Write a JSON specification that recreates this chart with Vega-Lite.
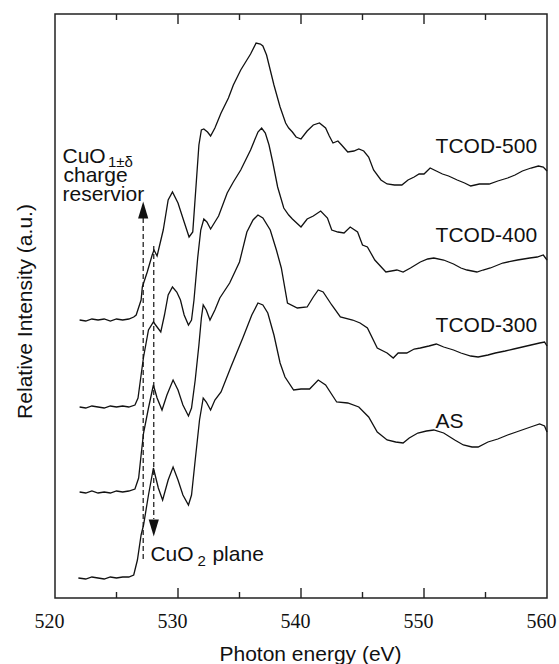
{
  "$schema": "https://vega.github.io/schema/vega-lite/v6.json",
  "width": 492,
  "height": 584,
  "autosize": {"type": "none"},
  "padding": {"left": 55, "top": 14, "right": 12, "bottom": 66},
  "background": "white",
  "config": {
    "view": {"stroke": "#222", "strokeWidth": 1.5},
    "axis": {"grid": false, "domain": false, "labelFont": "Liberation Serif", "labelFontSize": 20, "labelColor": "#111", "titleFont": "Liberation Sans", "titleFontSize": 21, "titleFontWeight": "normal", "titleColor": "#111"}
  },
  "datasets": {
    "spectra": [
      {"E":522.0,"I":278,"s":"TCOD-500"},{"E":522.5,"I":277,"s":"TCOD-500"},{"E":523.0,"I":279,"s":"TCOD-500"},{"E":523.5,"I":278,"s":"TCOD-500"},{"E":524.0,"I":279,"s":"TCOD-500"},{"E":524.5,"I":277,"s":"TCOD-500"},{"E":525.0,"I":279,"s":"TCOD-500"},{"E":525.5,"I":278,"s":"TCOD-500"},{"E":526.0,"I":279,"s":"TCOD-500"},{"E":526.4,"I":281,"s":"TCOD-500"},{"E":526.6,"I":283,"s":"TCOD-500"},{"E":527.0,"I":298,"s":"TCOD-500"},{"E":527.1,"I":311,"s":"TCOD-500"},{"E":527.5,"I":326,"s":"TCOD-500"},{"E":527.9,"I":343,"s":"TCOD-500"},{"E":528.05,"I":348,"s":"TCOD-500"},{"E":528.3,"I":342,"s":"TCOD-500"},{"E":528.55,"I":355,"s":"TCOD-500"},{"E":528.8,"I":368,"s":"TCOD-500"},{"E":529.2,"I":398,"s":"TCOD-500"},{"E":529.55,"I":406,"s":"TCOD-500"},{"E":530.0,"I":395,"s":"TCOD-500"},{"E":530.5,"I":376,"s":"TCOD-500"},{"E":530.9,"I":361,"s":"TCOD-500"},{"E":531.2,"I":366,"s":"TCOD-500"},{"E":531.5,"I":418,"s":"TCOD-500"},{"E":531.7,"I":453,"s":"TCOD-500"},{"E":531.9,"I":468,"s":"TCOD-500"},{"E":532.1,"I":469,"s":"TCOD-500"},{"E":532.4,"I":466,"s":"TCOD-500"},{"E":532.65,"I":462,"s":"TCOD-500"},{"E":533.0,"I":470,"s":"TCOD-500"},{"E":533.5,"I":485,"s":"TCOD-500"},{"E":534.1,"I":500,"s":"TCOD-500"},{"E":534.5,"I":513,"s":"TCOD-500"},{"E":535.1,"I":528,"s":"TCOD-500"},{"E":535.9,"I":544,"s":"TCOD-500"},{"E":536.35,"I":555,"s":"TCOD-500"},{"E":536.7,"I":554,"s":"TCOD-500"},{"E":536.9,"I":552,"s":"TCOD-500"},{"E":537.2,"I":543,"s":"TCOD-500"},{"E":537.5,"I":528,"s":"TCOD-500"},{"E":537.8,"I":513,"s":"TCOD-500"},{"E":538.3,"I":491,"s":"TCOD-500"},{"E":538.75,"I":475,"s":"TCOD-500"},{"E":539.0,"I":470,"s":"TCOD-500"},{"E":539.3,"I":466,"s":"TCOD-500"},{"E":539.6,"I":461,"s":"TCOD-500"},{"E":540.0,"I":459,"s":"TCOD-500"},{"E":540.5,"I":467,"s":"TCOD-500"},{"E":541.0,"I":473,"s":"TCOD-500"},{"E":541.5,"I":475,"s":"TCOD-500"},{"E":542.0,"I":470,"s":"TCOD-500"},{"E":542.3,"I":462,"s":"TCOD-500"},{"E":542.6,"I":455,"s":"TCOD-500"},{"E":543.0,"I":457,"s":"TCOD-500"},{"E":543.3,"I":453,"s":"TCOD-500"},{"E":543.8,"I":446,"s":"TCOD-500"},{"E":544.3,"I":447,"s":"TCOD-500"},{"E":544.7,"I":449,"s":"TCOD-500"},{"E":545.1,"I":447,"s":"TCOD-500"},{"E":545.5,"I":441,"s":"TCOD-500"},{"E":545.9,"I":428,"s":"TCOD-500"},{"E":546.5,"I":418,"s":"TCOD-500"},{"E":547.0,"I":414,"s":"TCOD-500"},{"E":547.6,"I":413,"s":"TCOD-500"},{"E":548.2,"I":413,"s":"TCOD-500"},{"E":548.7,"I":418,"s":"TCOD-500"},{"E":549.2,"I":421,"s":"TCOD-500"},{"E":549.6,"I":424,"s":"TCOD-500"},{"E":550.0,"I":424,"s":"TCOD-500"},{"E":550.5,"I":430,"s":"TCOD-500"},{"E":551.0,"I":427,"s":"TCOD-500"},{"E":551.5,"I":424,"s":"TCOD-500"},{"E":552.0,"I":422,"s":"TCOD-500"},{"E":552.7,"I":418,"s":"TCOD-500"},{"E":553.3,"I":415,"s":"TCOD-500"},{"E":553.8,"I":412,"s":"TCOD-500"},{"E":554.5,"I":414,"s":"TCOD-500"},{"E":555.3,"I":414,"s":"TCOD-500"},{"E":556.0,"I":417,"s":"TCOD-500"},{"E":556.8,"I":420,"s":"TCOD-500"},{"E":557.4,"I":423,"s":"TCOD-500"},{"E":558.0,"I":427,"s":"TCOD-500"},{"E":558.7,"I":430,"s":"TCOD-500"},{"E":559.3,"I":432,"s":"TCOD-500"},{"E":559.7,"I":431,"s":"TCOD-500"},{"E":560.0,"I":427,"s":"TCOD-500"},

      {"E":522.0,"I":191,"s":"TCOD-400"},{"E":522.5,"I":190,"s":"TCOD-400"},{"E":523.0,"I":192,"s":"TCOD-400"},{"E":523.5,"I":191,"s":"TCOD-400"},{"E":524.0,"I":190,"s":"TCOD-400"},{"E":524.5,"I":192,"s":"TCOD-400"},{"E":525.0,"I":191,"s":"TCOD-400"},{"E":525.5,"I":192,"s":"TCOD-400"},{"E":526.0,"I":191,"s":"TCOD-400"},{"E":526.5,"I":193,"s":"TCOD-400"},{"E":526.75,"I":200,"s":"TCOD-400"},{"E":527.0,"I":223,"s":"TCOD-400"},{"E":527.2,"I":241,"s":"TCOD-400"},{"E":527.6,"I":268,"s":"TCOD-400"},{"E":528.0,"I":276,"s":"TCOD-400"},{"E":528.3,"I":271,"s":"TCOD-400"},{"E":528.6,"I":266,"s":"TCOD-400"},{"E":528.9,"I":283,"s":"TCOD-400"},{"E":529.2,"I":303,"s":"TCOD-400"},{"E":529.55,"I":311,"s":"TCOD-400"},{"E":529.9,"I":306,"s":"TCOD-400"},{"E":530.2,"I":298,"s":"TCOD-400"},{"E":530.5,"I":283,"s":"TCOD-400"},{"E":530.85,"I":273,"s":"TCOD-400"},{"E":531.1,"I":278,"s":"TCOD-400"},{"E":531.3,"I":298,"s":"TCOD-400"},{"E":531.6,"I":340,"s":"TCOD-400"},{"E":531.85,"I":368,"s":"TCOD-400"},{"E":532.1,"I":379,"s":"TCOD-400"},{"E":532.35,"I":376,"s":"TCOD-400"},{"E":532.65,"I":369,"s":"TCOD-400"},{"E":533.0,"I":376,"s":"TCOD-400"},{"E":533.3,"I":382,"s":"TCOD-400"},{"E":534.0,"I":405,"s":"TCOD-400"},{"E":534.5,"I":416,"s":"TCOD-400"},{"E":535.1,"I":428,"s":"TCOD-400"},{"E":535.9,"I":448,"s":"TCOD-400"},{"E":536.5,"I":466,"s":"TCOD-400"},{"E":536.8,"I":470,"s":"TCOD-400"},{"E":537.1,"I":465,"s":"TCOD-400"},{"E":537.4,"I":453,"s":"TCOD-400"},{"E":537.7,"I":436,"s":"TCOD-400"},{"E":538.1,"I":411,"s":"TCOD-400"},{"E":538.6,"I":390,"s":"TCOD-400"},{"E":539.0,"I":383,"s":"TCOD-400"},{"E":539.3,"I":379,"s":"TCOD-400"},{"E":540.0,"I":371,"s":"TCOD-400"},{"E":540.5,"I":379,"s":"TCOD-400"},{"E":541.0,"I":382,"s":"TCOD-400"},{"E":541.6,"I":387,"s":"TCOD-400"},{"E":542.15,"I":380,"s":"TCOD-400"},{"E":542.5,"I":368,"s":"TCOD-400"},{"E":543.0,"I":366,"s":"TCOD-400"},{"E":543.5,"I":365,"s":"TCOD-400"},{"E":544.0,"I":371,"s":"TCOD-400"},{"E":544.6,"I":366,"s":"TCOD-400"},{"E":545.0,"I":353,"s":"TCOD-400"},{"E":545.4,"I":351,"s":"TCOD-400"},{"E":546.0,"I":338,"s":"TCOD-400"},{"E":546.9,"I":326,"s":"TCOD-400"},{"E":547.8,"I":328,"s":"TCOD-400"},{"E":548.3,"I":326,"s":"TCOD-400"},{"E":548.9,"I":330,"s":"TCOD-400"},{"E":549.7,"I":336,"s":"TCOD-400"},{"E":550.3,"I":339,"s":"TCOD-400"},{"E":550.8,"I":340,"s":"TCOD-400"},{"E":551.6,"I":338,"s":"TCOD-400"},{"E":552.4,"I":334,"s":"TCOD-400"},{"E":553.0,"I":330,"s":"TCOD-400"},{"E":553.5,"I":328,"s":"TCOD-400"},{"E":554.3,"I":326,"s":"TCOD-400"},{"E":554.8,"I":328,"s":"TCOD-400"},{"E":555.4,"I":330,"s":"TCOD-400"},{"E":556.4,"I":335,"s":"TCOD-400"},{"E":557.6,"I":338,"s":"TCOD-400"},{"E":558.6,"I":340,"s":"TCOD-400"},{"E":559.2,"I":341,"s":"TCOD-400"},{"E":559.7,"I":343,"s":"TCOD-400"},{"E":560.0,"I":338,"s":"TCOD-400"},

      {"E":522.0,"I":106,"s":"TCOD-300"},{"E":522.5,"I":105,"s":"TCOD-300"},{"E":523.0,"I":107,"s":"TCOD-300"},{"E":523.5,"I":105,"s":"TCOD-300"},{"E":524.0,"I":106,"s":"TCOD-300"},{"E":524.5,"I":105,"s":"TCOD-300"},{"E":525.0,"I":107,"s":"TCOD-300"},{"E":525.5,"I":106,"s":"TCOD-300"},{"E":526.0,"I":107,"s":"TCOD-300"},{"E":526.5,"I":109,"s":"TCOD-300"},{"E":526.8,"I":120,"s":"TCOD-300"},{"E":527.0,"I":143,"s":"TCOD-300"},{"E":527.2,"I":165,"s":"TCOD-300"},{"E":527.6,"I":190,"s":"TCOD-300"},{"E":528.0,"I":213,"s":"TCOD-300"},{"E":528.3,"I":200,"s":"TCOD-300"},{"E":528.7,"I":188,"s":"TCOD-300"},{"E":529.1,"I":203,"s":"TCOD-300"},{"E":529.6,"I":218,"s":"TCOD-300"},{"E":530.0,"I":208,"s":"TCOD-300"},{"E":530.4,"I":193,"s":"TCOD-300"},{"E":530.85,"I":182,"s":"TCOD-300"},{"E":531.1,"I":190,"s":"TCOD-300"},{"E":531.4,"I":218,"s":"TCOD-300"},{"E":531.7,"I":253,"s":"TCOD-300"},{"E":531.9,"I":280,"s":"TCOD-300"},{"E":532.05,"I":293,"s":"TCOD-300"},{"E":532.3,"I":288,"s":"TCOD-300"},{"E":532.6,"I":278,"s":"TCOD-300"},{"E":533.0,"I":288,"s":"TCOD-300"},{"E":533.4,"I":300,"s":"TCOD-300"},{"E":534.2,"I":315,"s":"TCOD-300"},{"E":535.0,"I":336,"s":"TCOD-300"},{"E":535.6,"I":366,"s":"TCOD-300"},{"E":536.1,"I":378,"s":"TCOD-300"},{"E":536.5,"I":383,"s":"TCOD-300"},{"E":536.9,"I":380,"s":"TCOD-300"},{"E":537.5,"I":368,"s":"TCOD-300"},{"E":538.0,"I":348,"s":"TCOD-300"},{"E":538.4,"I":330,"s":"TCOD-300"},{"E":538.9,"I":295,"s":"TCOD-300"},{"E":539.7,"I":290,"s":"TCOD-300"},{"E":540.5,"I":291,"s":"TCOD-300"},{"E":541.0,"I":301,"s":"TCOD-300"},{"E":541.4,"I":308,"s":"TCOD-300"},{"E":541.8,"I":306,"s":"TCOD-300"},{"E":542.5,"I":293,"s":"TCOD-300"},{"E":543.2,"I":281,"s":"TCOD-300"},{"E":544.2,"I":278,"s":"TCOD-300"},{"E":544.8,"I":275,"s":"TCOD-300"},{"E":545.4,"I":270,"s":"TCOD-300"},{"E":546.2,"I":250,"s":"TCOD-300"},{"E":547.0,"I":245,"s":"TCOD-300"},{"E":547.5,"I":240,"s":"TCOD-300"},{"E":547.9,"I":245,"s":"TCOD-300"},{"E":548.6,"I":245,"s":"TCOD-300"},{"E":549.2,"I":249,"s":"TCOD-300"},{"E":549.7,"I":250,"s":"TCOD-300"},{"E":550.4,"I":252,"s":"TCOD-300"},{"E":551.0,"I":254,"s":"TCOD-300"},{"E":551.6,"I":251,"s":"TCOD-300"},{"E":552.4,"I":248,"s":"TCOD-300"},{"E":553.0,"I":245,"s":"TCOD-300"},{"E":553.8,"I":242,"s":"TCOD-300"},{"E":554.4,"I":241,"s":"TCOD-300"},{"E":555.2,"I":243,"s":"TCOD-300"},{"E":555.8,"I":245,"s":"TCOD-300"},{"E":556.6,"I":247,"s":"TCOD-300"},{"E":557.3,"I":249,"s":"TCOD-300"},{"E":558.0,"I":251,"s":"TCOD-300"},{"E":558.7,"I":253,"s":"TCOD-300"},{"E":559.4,"I":255,"s":"TCOD-300"},{"E":559.8,"I":256,"s":"TCOD-300"},{"E":560.0,"I":252,"s":"TCOD-300"},

      {"E":521.9,"I":20,"s":"AS"},{"E":522.5,"I":19,"s":"AS"},{"E":523.0,"I":21,"s":"AS"},{"E":523.5,"I":20,"s":"AS"},{"E":524.0,"I":19,"s":"AS"},{"E":524.5,"I":21,"s":"AS"},{"E":525.0,"I":20,"s":"AS"},{"E":525.5,"I":21,"s":"AS"},{"E":526.0,"I":21,"s":"AS"},{"E":526.4,"I":23,"s":"AS"},{"E":526.7,"I":38,"s":"AS"},{"E":527.0,"I":63,"s":"AS"},{"E":527.2,"I":73,"s":"AS"},{"E":527.6,"I":103,"s":"AS"},{"E":528.0,"I":130,"s":"AS"},{"E":528.4,"I":110,"s":"AS"},{"E":528.75,"I":98,"s":"AS"},{"E":529.2,"I":118,"s":"AS"},{"E":529.6,"I":131,"s":"AS"},{"E":530.0,"I":118,"s":"AS"},{"E":530.4,"I":103,"s":"AS"},{"E":530.85,"I":93,"s":"AS"},{"E":531.1,"I":103,"s":"AS"},{"E":531.4,"I":138,"s":"AS"},{"E":531.75,"I":178,"s":"AS"},{"E":532.05,"I":200,"s":"AS"},{"E":532.3,"I":196,"s":"AS"},{"E":532.65,"I":188,"s":"AS"},{"E":533.0,"I":198,"s":"AS"},{"E":533.5,"I":206,"s":"AS"},{"E":534.3,"I":231,"s":"AS"},{"E":535.3,"I":261,"s":"AS"},{"E":536.0,"I":283,"s":"AS"},{"E":536.5,"I":295,"s":"AS"},{"E":536.9,"I":293,"s":"AS"},{"E":537.3,"I":285,"s":"AS"},{"E":537.8,"I":263,"s":"AS"},{"E":538.3,"I":235,"s":"AS"},{"E":538.7,"I":221,"s":"AS"},{"E":539.4,"I":208,"s":"AS"},{"E":540.0,"I":209,"s":"AS"},{"E":540.7,"I":209,"s":"AS"},{"E":541.4,"I":218,"s":"AS"},{"E":542.0,"I":213,"s":"AS"},{"E":542.9,"I":196,"s":"AS"},{"E":543.8,"I":195,"s":"AS"},{"E":544.7,"I":191,"s":"AS"},{"E":545.5,"I":181,"s":"AS"},{"E":546.2,"I":166,"s":"AS"},{"E":547.0,"I":158,"s":"AS"},{"E":547.7,"I":156,"s":"AS"},{"E":548.3,"I":155,"s":"AS"},{"E":548.8,"I":160,"s":"AS"},{"E":549.5,"I":165,"s":"AS"},{"E":550.2,"I":167,"s":"AS"},{"E":550.8,"I":168,"s":"AS"},{"E":551.6,"I":165,"s":"AS"},{"E":552.5,"I":158,"s":"AS"},{"E":553.2,"I":153,"s":"AS"},{"E":553.9,"I":151,"s":"AS"},{"E":554.4,"I":151,"s":"AS"},{"E":555.2,"I":156,"s":"AS"},{"E":556.0,"I":159,"s":"AS"},{"E":556.8,"I":163,"s":"AS"},{"E":557.5,"I":166,"s":"AS"},{"E":558.2,"I":169,"s":"AS"},{"E":558.9,"I":172,"s":"AS"},{"E":559.4,"I":174,"s":"AS"},{"E":559.8,"I":172,"s":"AS"},{"E":560.0,"I":166,"s":"AS"}
    ],
    "dashes": [
      {"E": 527.17, "y1": 380, "y2": 38},
      {"E": 528.03, "y1": 352, "y2": 79}
    ],
    "arrows": [
      {"E": 527.17, "y": 388, "dir": "up"},
      {"E": 528.03, "y": 70, "dir": "down"}
    ],
    "labels": [
      {"E": 520.61, "y": 435, "t": "CuO"},
      {"E": 520.69, "y": 416, "t": "charge"},
      {"E": 520.61, "y": 397, "t": "reservior"},
      {"E": 527.76, "y": 37, "t": "CuO"},
      {"E": 532.8, "y": 37, "t": "plane"},
      {"E": 550.94, "y": 445, "t": "TCOD-500"},
      {"E": 550.94, "y": 356, "t": "TCOD-400"},
      {"E": 550.94, "y": 266, "t": "TCOD-300"},
      {"E": 550.94, "y": 170, "t": "AS"}
    ],
    "subs": [
      {"E": 524.3, "y": 431, "t": "1±δ"},
      {"E": 531.59, "y": 32, "t": "2"}
    ],
    "xticks": [
      {"E": 525, "kind": "minor"}, {"E": 530, "kind": "major"}, {"E": 535, "kind": "minor"},
      {"E": 540, "kind": "major"}, {"E": 545, "kind": "minor"}, {"E": 550, "kind": "major"},
      {"E": 555, "kind": "minor"}
    ]
  },
  "resolve": {"axis": {"x": "independent", "y": "independent"}},
  "layer": [
    {
      "data": {"name": "spectra"},
      "mark": {"type": "line", "stroke": "#111", "strokeWidth": 1.3, "interpolate": "linear"},
      "encoding": {
        "x": {"field": "E", "type": "quantitative", "scale": {"domain": [520, 560], "nice": false, "zero": false},
              "axis": {"orient": "bottom", "values": [520, 530, 540, 550, 560], "ticks": false, "labelFont": "Liberation Serif, Times New Roman, serif", "labelFontSize": 20, "labelPadding": 13, "labelOffset": -6, "labelFlush": false, "title": "Photon energy (eV)", "titleFont": "Liberation Sans", "titleFontSize": 21, "titlePadding": 12, "titleX": 255}},
        "y": {"field": "I", "type": "quantitative", "scale": {"domain": [0, 584], "nice": false, "zero": false},
              "axis": {"orient": "left", "ticks": false, "labels": false, "title": "Relative Intensity (a.u.)", "titlePadding": 20, "titleY": 297}},
        "detail": {"field": "s", "type": "nominal"}
      }
    },
    {
      "data": {"name": "dashes"},
      "mark": {"type": "rule", "stroke": "#111", "strokeWidth": 1.2, "strokeDash": [5, 3]},
      "encoding": {
        "x": {"field": "E", "type": "quantitative", "axis": null},
        "y": {"field": "y1", "type": "quantitative", "axis": null},
        "y2": {"field": "y2"}
      }
    },
    {
      "data": {"name": "arrows"},
      "mark": {"type": "point", "filled": true, "color": "#111", "opacity": 1, "size": 289},
      "encoding": {
        "x": {"field": "E", "type": "quantitative", "axis": null},
        "y": {"field": "y", "type": "quantitative", "axis": null},
        "shape": {"field": "dir", "type": "nominal", "legend": null,
                  "scale": {"domain": ["up", "down"], "range": ["M0,-1L-0.6,1L0.6,1Z", "M0,1L-0.6,-1L0.6,-1Z"]}}
      }
    },
    {
      "data": {"name": "labels"},
      "mark": {"type": "text", "font": "Liberation Sans", "fontSize": 21, "align": "left", "baseline": "alphabetic", "color": "#111"},
      "encoding": {
        "x": {"field": "E", "type": "quantitative", "axis": null},
        "y": {"field": "y", "type": "quantitative", "axis": null},
        "text": {"field": "t"}
      }
    },
    {
      "data": {"name": "subs"},
      "mark": {"type": "text", "font": "Liberation Sans", "fontSize": 15, "align": "left", "baseline": "alphabetic", "color": "#111"},
      "encoding": {
        "x": {"field": "E", "type": "quantitative", "axis": null},
        "y": {"field": "y", "type": "quantitative", "axis": null},
        "text": {"field": "t"}
      }
    },
    {
      "data": {"name": "xticks"},
      "transform": [{"filter": "datum.kind === 'major'"}],
      "mark": {"type": "rule", "stroke": "#222", "strokeWidth": 1.4},
      "encoding": {
        "x": {"field": "E", "type": "quantitative", "axis": null},
        "y": {"datum": 0, "type": "quantitative", "axis": null},
        "y2": {"datum": 10}
      }
    },
    {
      "data": {"name": "xticks"},
      "transform": [{"filter": "datum.kind === 'major'"}],
      "mark": {"type": "rule", "stroke": "#222", "strokeWidth": 1.4},
      "encoding": {
        "x": {"field": "E", "type": "quantitative", "axis": null},
        "y": {"datum": 584, "type": "quantitative", "axis": null},
        "y2": {"datum": 574}
      }
    },
    {
      "data": {"name": "xticks"},
      "transform": [{"filter": "datum.kind === 'minor'"}],
      "mark": {"type": "rule", "stroke": "#222", "strokeWidth": 1.4},
      "encoding": {
        "x": {"field": "E", "type": "quantitative", "axis": null},
        "y": {"datum": 0, "type": "quantitative", "axis": null},
        "y2": {"datum": 6}
      }
    },
    {
      "data": {"name": "xticks"},
      "transform": [{"filter": "datum.kind === 'minor'"}],
      "mark": {"type": "rule", "stroke": "#222", "strokeWidth": 1.4},
      "encoding": {
        "x": {"field": "E", "type": "quantitative", "axis": null},
        "y": {"datum": 584, "type": "quantitative", "axis": null},
        "y2": {"datum": 578}
      }
    }
  ]
}
